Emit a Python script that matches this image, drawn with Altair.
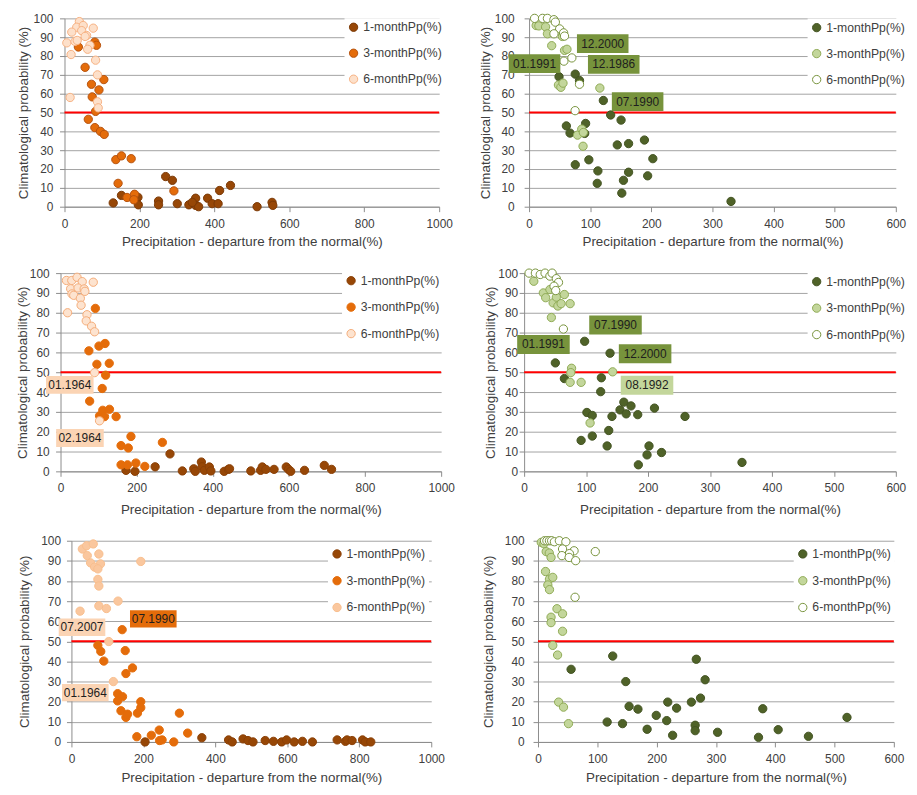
import altair as alt
import pandas as pd

SERIES = ["1-monthPp(%)", "3-monthPp(%)", "6-monthPp(%)"]
X_TITLE = "Precipitation - departure from the normal(%)"
Y_TITLE = "Climatological probability (%)"
THRESHOLD = [50]

# ---------------- Panel 1 (top left) ----------------
p1_m1 = [(130, 2), (152, 6), (196, 5), (197, 1), (251, 3), (251, 1), (270, 16), (288, 14),
         (301, 1.6), (332, 1), (350, 4.5), (350, 0.7), (358, 0), (341, 2.3), (382, 4.5),
         (394, 1.6), (410, 1.6), (414, 8.6), (443, 11.3), (514, 0), (554, 2.3), (556, 0.7)]
p1_m3 = [(81, 87.4), (85.4, 85.7), (37, 84.8), (55, 74), (72, 65), (105, 67.5), (92, 62),
         (74, 58.3), (83, 50.6), (63.5, 46.4), (81, 42), (96, 40), (106, 38.4), (137, 25),
         (152, 27), (178, 25.5), (143, 12.4), (167, 4.9), (187, 6.6), (185, 3.7), (292, 8.4)]
p1_m6 = [(39.7, 98.3), (32.6, 95.3), (50, 96.2), (76.7, 94.8), (19.4, 92.7), (45.9, 93.5),
         (59, 90.9), (6.2, 87), (28, 87.8), (67.9, 85.7), (61.8, 83.6), (17.6, 80.8), (83, 77.8),
         (88, 70), (15, 58), (88, 55.7), (90, 52.5), (34, 88.3), (55, 90.4)]

# ---------------- Panel 2 (top right) ----------------
p2_m1 = [(49, 69), (75.5, 70.4), (82.5, 67), (121.5, 56.4), (133.5, 48.7), (150.5, 46), (61, 42.9),
         (67, 39.1), (92.5, 44.2), (91, 38.9), (75.6, 22.3), (97.8, 24.9), (112.6, 19), (111.5, 12.4),
         (144.3, 32.8), (162.8, 33.5), (188.7, 35.4), (202.5, 25.5), (154.4, 14), (162.8, 18.3),
         (151.7, 7.2), (194, 16.4), (330.4, 2.8)]
p2_m3 = [(11.6, 96.2), (16, 96), (27, 95.5), (30, 91.8), (37, 85.5), (54.5, 90.4), (58, 83),
         (62, 83.6), (48, 64.6), (52, 63.4), (55.5, 65.6), (115.8, 63), (79.3, 38), (86.2, 41.2),
         (88.8, 39.4), (88.3, 32.1)]
p2_m6 = [(9, 100), (22, 100), (30, 100), (40.6, 99.3), (43, 98), (50, 94.4), (40.7, 91.8),
         (56.5, 92.3), (58, 90.6), (57, 77.3), (70, 79), (82.5, 65), (75.3, 51)]
p2_labels = ["12.2000", "01.1991", "12.1986", "07.1990"]
p2_label_x = [120.5, 9, 138.5, 177.6]
p2_label_y = [86.6, 76, 75.6, 55.8]
p2_label_series = [SERIES[0], SERIES[0], SERIES[0], SERIES[0]]

# ---------------- Panel 3 (middle left) ----------------
p3_m1 = [(172, 0.5), (195.5, 0), (248.5, 2.3), (287.6, 8.8), (320, 0.2), (350, 1.3), (354, 0),
         (370, 4.7), (372, 2.3), (378, 0.5), (391, 2.2), (395, 0.2), (430, 0), (441, 1), (444, 1.3),
         (500, 0.2), (525.6, 0.5), (530, 2.2), (539.5, 1), (561, 1), (593, 2.2), (599, 1),
         (604.7, 0), (641, 0.5), (693, 3), (712, 1)]
p3_m3 = [(91.5, 82.2), (74.5, 60.8), (101, 63.2), (117, 64.5), (95.5, 54), (128, 54.5),
         (118.5, 48.5), (109.5, 41.8), (76.5, 35.4), (102.5, 28), (111, 30.8), (115.6, 27.6),
         (128.6, 31.3), (146, 27.6), (159, 13), (178, 11.8), (185, 17.6), (159, 3.3), (176, 3.3),
         (198, 4.2), (221.5, 2.5), (267.6, 14.6)]
p3_m6 = [(15.5, 96.3), (29.5, 96.3), (43.4, 97.9), (57, 95.7), (86, 95.4), (26.5, 92.1), (30, 89.5),
         (46, 92.5), (62, 92), (64, 90.8), (34.7, 88.8), (52, 87.3), (54, 83.8), (18.5, 80),
         (69.5, 79), (67.5, 75.9), (81.5, 73.2), (89.5, 70.4), (89.5, 49.8), (102.5, 25.5)]
p3_labels = ["01.1964", "02.1964"]
p3_label_x = [24.3, 51]
p3_label_y = [43.6, 16.8]
p3_label_series = [SERIES[2], SERIES[2]]

# ---------------- Panel 4 (middle right) ----------------
p4_m1 = [(97.7, 65.6), (138.7, 59.6), (50.4, 54.7), (65, 46.8), (124.7, 47.2), (123.6, 40.2),
         (101.3, 29.7), (110, 28.2), (141.8, 27.7), (154.8, 31), (161, 34.9), (172.5, 33),
         (164.7, 29), (183.4, 28.6), (210.4, 31.9), (259.7, 27.7), (92, 15.6), (110, 17.8),
         (136.6, 20.6), (134, 12.8), (201.6, 12.8), (198.4, 8.3), (221.8, 9.5), (184.4, 3.3),
         (351.7, 4.5)]
p4_m3 = [(15.6, 95.9), (31, 90), (34.8, 87.6), (41.6, 91.7), (46.8, 85), (44, 77.6), (54.5, 83.4),
         (59.7, 84.6), (65, 89.2), (74.3, 84.6), (52, 87.9), (76.6, 52), (75.3, 49.8), (74.3, 44.9),
         (92, 44.9), (142.9, 50.2), (106.5, 24.4)]
p4_m6 = [(8, 100), (18.2, 100), (26, 99.3), (33.8, 100), (41.6, 98.5), (45.2, 100), (52, 97.2),
         (55.5, 95.3), (48.3, 93.4), (51, 91.2), (63.4, 71.8)]
p4_labels = ["07.1990", "01.1991", "12.2000", "08.1992"]
p4_label_x = [147.5, 31.2, 195.3, 198.4]
p4_label_y = [73.8, 64, 59.3, 43.4]
p4_label_series = [SERIES[0], SERIES[0], SERIES[0], SERIES[1]]

# ---------------- Panel 5 (bottom left) ----------------
p5_m1 = [(204.6, 0), (362.4, 2.1), (436.7, 1), (446.8, 0), (477, 1.5), (490.8, 0.7), (504.6, 0),
         (538.5, 0.7), (561.5, 0.3), (584.4, 0), (598, 1), (619, 0), (642, 0.3), (669.7, 0),
         (738.5, 1), (761.5, 0.3), (766, 1), (780, 0.7), (809, 1), (816.5, 0), (832, 0)]
p5_m3 = [(141, 55.8), (73.4, 48), (81.5, 45), (90, 40.2), (149.5, 45.4), (169.7, 36.8), (151.4, 34),
         (128.4, 24), (142, 22.5), (128.4, 20.4), (192.7, 20), (192.7, 17), (183.5, 14.3),
         (137.6, 15.5), (151.4, 12.2), (156, 13.8), (181.7, 2.6), (222, 3.3), (244, 5.9), (252, 1),
         (245, 0.7), (284.4, 0), (300, 14.3), (323, 4.4)]
p5_m6 = [(30.3, 95.9), (42.2, 97.5), (60.6, 98.4), (44, 92.6), (76.2, 93.4), (53.2, 89), (80.8, 88.5),
         (64.3, 86.9), (73.5, 86), (73.5, 80.8), (76.2, 77.5), (192.8, 89.7), (24, 65), (76.2, 67.6),
         (97.3, 66.3), (129.5, 70), (103.8, 49.9), (116.5, 30)]
p5_labels = ["07.2007", "07.1990", "01.1964"]
p5_label_x = [29.4, 227.5, 38.5]
p5_label_y = [57, 61.2, 24.5]
p5_label_series = [SERIES[2], SERIES[1], SERIES[2]]

# ---------------- Panel 6 (bottom right) ----------------
p6_m1 = [(55.8, 36.1), (126, 42.7), (148, 30), (266.9, 41.1), (281.8, 30.9), (153.6, 17.7),
         (168.5, 16.3), (218.8, 19.8), (233.7, 16.8), (258.6, 19.8), (274, 21.8), (379, 16.5),
         (521, 12.2), (116.6, 9.9), (142.5, 9.1), (199.4, 13.2), (217, 10.6), (184, 6.3), (227, 3.3),
         (265, 8.3), (265, 5.6), (302.8, 4.8), (371.8, 2.3), (405, 6.1), (456, 2.8)]
p6_m3 = [(5.5, 99.2), (10, 98.5), (13.8, 94.6), (19, 93.9), (22, 91.7), (12.7, 84.7), (19.3, 80.9),
         (24.9, 81.8), (16.6, 78), (19.4, 75.7), (32, 66.2), (41.4, 63.7), (22, 62), (22, 59.3),
         (41.4, 55), (24.9, 48), (33, 43.2), (34.8, 19.8), (43, 17.3), (51.4, 9.1)]
p6_m6 = [(11, 100), (15, 100), (19.3, 100), (23, 100), (27.7, 99.5), (36, 100), (47, 99.5),
         (41.4, 95.9), (60.8, 95), (53, 93.6), (40.3, 92.6), (52.5, 91.7), (63.5, 90.1),
         (96.6, 94.6), (62.5, 71.9)]

# ---------------- styling ----------------
FONT = "Liberation Sans"
TEXT = "#404040"
GRID = "#a3a3a3"
AXISC = "#8c8c8c"

ORANGE_BOX = ["#974706", "#E46C0A", "#FBD4B4"]
GREEN_BOX = ["#77933C", "#C3D69B", "#FFFFFF"]
GREEN_FILL = ["#4F6228", "#C3D69B", "#FFFFFF"]
GREEN_STROKE = ["#435322", "#8FAA55", "#77933C"]


def make_points(m1, m3, m6):
    rows = []
    for name, pts in zip(SERIES, (m1, m3, m6)):
        rows += [{"x": px, "y": py, "series": name} for px, py in pts]
    return pd.DataFrame(rows)


def make_labels(texts, xs, ys, series):
    return pd.DataFrame({"x": xs, "y": ys, "label": texts, "series": series})


def panel(pts, labels, st):
    xs = alt.Scale(domain=[0, st["xmax"]], nice=False, zero=False)
    ys = alt.Scale(domain=[0, 100], nice=False, zero=False)
    common = dict(domainColor=AXISC, tickColor=AXISC, tickSize=5, labelFont=FONT, labelFontSize=12,
                  labelColor=TEXT, titleFont=FONT, titleFontSize=13.5, titleFontWeight="normal",
                  titleColor=TEXT, format="d")
    xa = alt.Axis(title=X_TITLE, values=list(range(0, st["xmax"] + 1, st["xstep"])), grid=False,
                  labelPadding=st["xlp"], titlePadding=st["xtp"], labelFlush=False, **common)
    ya = alt.Axis(title=Y_TITLE, values=list(range(0, 101, 10)), grid=True, gridColor=GRID,
                  gridWidth=1, labelPadding=st["ylp"], titlePadding=st["ytp"], **common)
    X = alt.X("x:Q", scale=xs, axis=xa)
    Y = alt.Y("y:Q", scale=ys, axis=ya)
    legend = alt.Legend(title=None, orient="none", legendX=st["lx"], legendY=st["ly"],
                        symbolType="circle", symbolSize=70, symbolStrokeWidth=1,
                        labelFont=FONT, labelFontSize=12.3, labelColor=TEXT, labelOffset=3.5,
                        rowPadding=st["rp"], padding=3, fillColor="white")
    rule = alt.Chart(pd.DataFrame({"y": THRESHOLD})).mark_rule(
        color="#ff0000", strokeWidth=2).encode(y=Y)
    dots = alt.Chart(pts).mark_point(filled=True, shape="circle", size=70, opacity=1,
                                     strokeWidth=1).encode(
        x=X, y=Y,
        fill=alt.Fill("series:N", scale=alt.Scale(domain=SERIES, range=st["fills"]), legend=legend),
        stroke=alt.Stroke("series:N", scale=alt.Scale(domain=SERIES, range=st["strokes"]),
                          legend=legend),
    )
    layers = [rule, dots]
    if labels is not None:
        bw, ratio = st["bw"], st["br"]
        path = f"M-1,-{ratio}L1,-{ratio}L1,{ratio}L-1,{ratio}Z"
        boxes = alt.Chart(labels).mark_point(shape=path, size=bw * bw, filled=True, opacity=1,
                                             strokeWidth=0).encode(
            x=X, y=Y,
            color=alt.Color("series:N", scale=alt.Scale(domain=SERIES, range=st["boxes"]),
                            legend=None))
        texts = alt.Chart(labels).mark_text(font=FONT, fontSize=12, color="#1e1e1e").encode(
            x=X, y=Y, text="label:N")
        layers += [boxes, texts]
    return alt.layer(*layers).properties(width=st["w"], height=st["h"])


s1 = dict(w=378, h=190, xmax=1000, xstep=200, xlp=6.5, xtp=5.5, ylp=6.7, ytp=3.1,
          lx=282.5, ly=-0.2, rp=12.2,
          fills=["#974706", "#E46C0A", "#FDE0CA"], strokes=["#7A3905", "#B5520E", "#F6B183"])
s2 = dict(w=370, h=190, xmax=600, xstep=100, xlp=6.5, xtp=5.5, ylp=10, ytp=1.5,
          lx=281, ly=0.2, rp=12.2, fills=GREEN_FILL, strokes=GREEN_STROKE,
          boxes=GREEN_BOX, bw=52, br=0.365)
s3 = dict(w=384, h=200, xmax=1000, xstep=200, xlp=6.7, xtp=8.5, ylp=6.5, ytp=0,
          lx=284, ly=-1.5, rp=12.7,
          fills=["#974706", "#E46C0A", "#FDE3CF"], strokes=["#8A4006", "#E46C0A", "#F4AC79"],
          boxes=ORANGE_BOX, bw=48, br=0.375)
s4 = dict(w=375, h=200, xmax=600, xstep=100, xlp=6.7, xtp=8.5, ylp=1.5, ytp=0,
          lx=286, ly=-0.5, rp=12.7, fills=GREEN_FILL, strokes=GREEN_STROKE,
          boxes=GREEN_BOX, bw=53, br=0.36)
s5 = dict(w=363, h=203, xmax=1000, xstep=200, xlp=7, xtp=6.25, ylp=6, ytp=9.5,
          lx=258.8, ly=4.2, rp=13,
          fills=["#974706", "#E46C0A", "#FAC79E"], strokes=["#8A4006", "#E46C0A", "#F8BE8E"],
          boxes=ORANGE_BOX, bw=47, br=0.372)
s6 = dict(w=359, h=203, xmax=600, xstep=100, xlp=7, xtp=6.25, ylp=9, ytp=8.5,
          lx=258, ly=4.2, rp=13, fills=GREEN_FILL, strokes=GREEN_STROKE)

c1 = panel(make_points(p1_m1, p1_m3, p1_m6), None, s1)
c2 = panel(make_points(p2_m1, p2_m3, p2_m6),
           make_labels(p2_labels, p2_label_x, p2_label_y, p2_label_series), s2)
c3 = panel(make_points(p3_m1, p3_m3, p3_m6),
           make_labels(p3_labels, p3_label_x, p3_label_y, p3_label_series), s3)
c4 = panel(make_points(p4_m1, p4_m3, p4_m6),
           make_labels(p4_labels, p4_label_x, p4_label_y, p4_label_series), s4)
c5 = panel(make_points(p5_m1, p5_m3, p5_m6),
           make_labels(p5_labels, p5_label_x, p5_label_y, p5_label_series), s5)
c6 = panel(make_points(p6_m1, p6_m3, p6_m6), None, s6)

IND = dict(fill="independent", stroke="independent", color="independent")


def spacer(w):
    # invisible, empty view that only sets the left indent of a row
    return alt.Chart(pd.DataFrame({"v": [0]})).mark_point(opacity=0).encode(
        x=alt.value(0), y=alt.value(0)).properties(width=w, height=1)


def row(indent, a, b, sp):
    inner = alt.hconcat(a, b, spacing=sp).resolve_scale(**IND).resolve_legend(**IND)
    return alt.hconcat(spacer(indent), inner, spacing=0).resolve_scale(**IND).resolve_legend(**IND)


row1 = row(4.7, c1, c2, 25.7)
row2 = row(4, c3, c4, 28.7)
row3 = row(6, c5, c6, 36.7)

chart = alt.vconcat(row1, row2, row3, spacing=18).resolve_scale(**IND).resolve_legend(**IND).properties(
    padding={"left": 0, "top": 0, "right": 0, "bottom": 0}
).configure_view(stroke=None)

chart.save("out.html", embed_options={"renderer": "svg", "actions": False})
